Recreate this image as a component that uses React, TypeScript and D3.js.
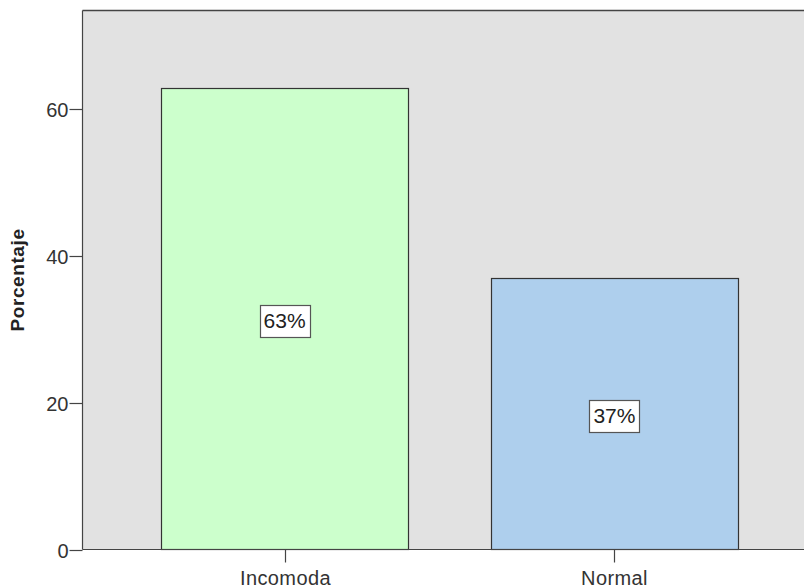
import { useEffect, useRef } from 'react'
import * as d3 from 'd3'

const categories = ['Incomoda', 'Normal']
const percentages = [63, 37]
const barColors = ['#ccffcc', '#aecfed']
const yTicks = [0, 20, 40, 60]
const yLabel = 'Porcentaje'

const width = 804
const height = 588
const margin = { top: 10.5, left: 82.5, bottom: 549.5, right: 816.5 }
const font = '"Liberation Sans", Arial, sans-serif'

export default function App() {
  const svgRef = useRef<SVGSVGElement>(null)

  useEffect(() => {
    if (!svgRef.current) return
    const svg = d3.select(svgRef.current)
    svg.selectAll('*').remove()

    const x = d3.scaleBand<string>()
      .domain(categories)
      .range([margin.left, margin.right])
      .paddingInner(0.2515)
      .paddingOuter(0.2386)

    const y = d3.scaleLinear()
      .domain([0, 73.5])
      .range([margin.bottom, margin.top])

    // plot background
    svg.append('rect')
      .attr('x', margin.left)
      .attr('y', margin.top)
      .attr('width', margin.right - margin.left)
      .attr('height', margin.bottom - margin.top)
      .attr('fill', '#e2e2e2')

    // top border
    svg.append('line')
      .attr('x1', margin.left).attr('x2', margin.right)
      .attr('y1', margin.top).attr('y2', margin.top)
      .attr('stroke', '#444').attr('stroke-width', 1.6)

    // bars
    svg.selectAll('rect.bar')
      .data(categories)
      .enter()
      .append('rect')
      .attr('class', 'bar')
      .attr('x', d => Math.round(x(d)!) + 0.5)
      .attr('y', (d, i) => Math.round(y(percentages[i])) + 0.5)
      .attr('width', Math.round(x.bandwidth()))
      .attr('height', (d, i) => margin.bottom - Math.round(y(percentages[i])) - 0.5)
      .attr('fill', (d, i) => barColors[i])
      .attr('stroke', '#333')
      .attr('stroke-width', 1.2)

    // y axis
    const yAxis = svg.append('g')
    yAxis.append('line')
      .attr('x1', margin.left).attr('x2', margin.left)
      .attr('y1', margin.top).attr('y2', margin.bottom)
      .attr('stroke', '#444').attr('stroke-width', 1.2)
    yTicks.forEach(t => {
      const ty = Math.round(y(t)) + 0.5
      yAxis.append('line')
        .attr('x1', margin.left - 13).attr('x2', margin.left)
        .attr('y1', ty).attr('y2', ty)
        .attr('stroke', '#444').attr('stroke-width', 1.2)
      yAxis.append('text')
        .attr('x', margin.left - 14)
        .attr('y', ty + 7)
        .attr('text-anchor', 'end')
        .attr('font-family', font)
        .attr('font-size', 20)
        .attr('fill', '#333')
        .text(t)
    })

    svg.append('text')
      .attr('transform', `translate(24,${(margin.top + margin.bottom) / 2}) rotate(-90)`)
      .attr('text-anchor', 'middle')
      .attr('font-family', font)
      .attr('font-size', 19)
      .attr('letter-spacing', 0.6)
      .attr('font-weight', 'bold')
      .attr('fill', '#222')
      .text(yLabel)

    // x axis
    svg.append('line')
      .attr('x1', margin.left).attr('x2', margin.right)
      .attr('y1', margin.bottom).attr('y2', margin.bottom)
      .attr('stroke', '#444').attr('stroke-width', 1.2)
    categories.forEach(c => {
      const cx = Math.round(x(c)! + x.bandwidth() / 2) + 0.5
      svg.append('line')
        .attr('x1', cx).attr('x2', cx)
        .attr('y1', margin.bottom).attr('y2', margin.bottom + 13)
        .attr('stroke', '#444').attr('stroke-width', 1.2)
      svg.append('text')
        .attr('x', cx)
        .attr('y', 585)
        .attr('text-anchor', 'middle')
        .attr('font-family', font)
        .attr('font-size', 20)
        .attr('letter-spacing', 0.4)
        .attr('fill', '#333')
        .text(c)
    })

    // value labels
    categories.forEach((c, i) => {
      const cx = x(c)! + x.bandwidth() / 2
      const cy = y(percentages[i] / 2) + 2
      const g = svg.append('g')
      const label = g.append('text')
        .attr('x', cx)
        .attr('y', cy + 7.5)
        .attr('text-anchor', 'middle')
        .attr('font-family', font)
        .attr('font-size', 21)
        .attr('fill', '#222')
        .text(`${percentages[i]}%`)
      const w = (label.node() as SVGTextElement).getComputedTextLength() + 8
      g.insert('rect', 'text')
        .attr('x', Math.round(cx - w / 2) + 0.5)
        .attr('y', Math.round(cy - 16) + 0.5)
        .attr('width', Math.round(w))
        .attr('height', 32)
        .attr('fill', '#fff')
        .attr('stroke', '#555')
        .attr('stroke-width', 1.2)
    })
  }, [])

  return (
    <svg
      ref={svgRef}
      width={width}
      height={height}
      style={{ position: 'absolute', left: 0, top: 0, background: '#fff' }}
    />
  )
}
